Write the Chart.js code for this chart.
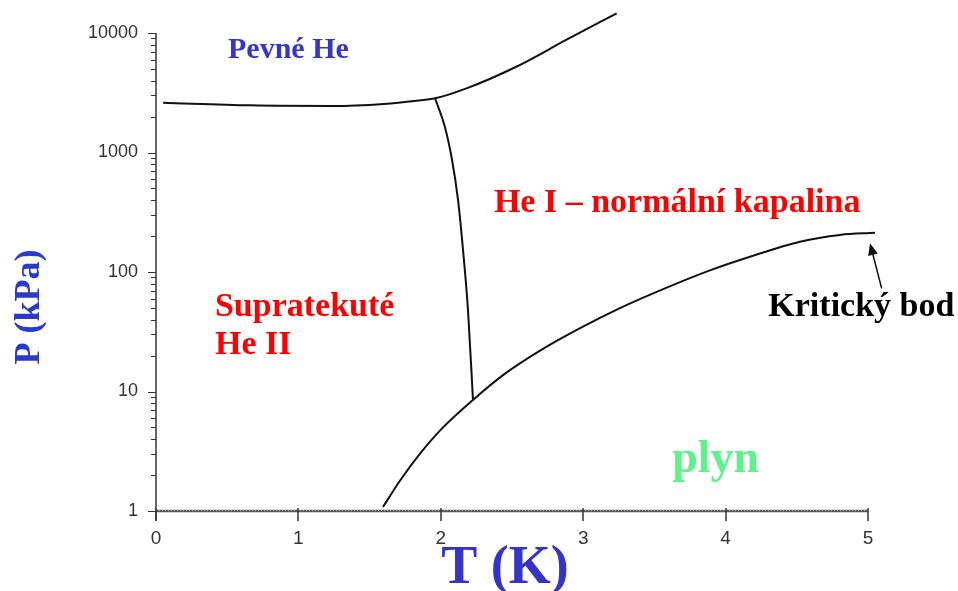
<!DOCTYPE html>
<html>
<head>
<meta charset="utf-8">
<script src="https://cdn.jsdelivr.net/npm/chart.js@4.4.1/dist/chart.umd.min.js"></script>
<style>
  html, body { margin: 0; padding: 0; background: #fff; }
  #wrap { width: 958px; height: 591px; }
</style>
</head>
<body>
<div id="wrap"><canvas id="phaseChart"></canvas></div>
<script>
// melting curve (solid / liquid)
const meltT = [0.05, 0.66, 1.24, 1.6, 1.83, 1.96, 2.18, 2.53, 2.88, 3.235];
const meltP = [2610, 2480, 2450, 2550, 2710, 2840, 3440, 5220, 8740, 14620];

// lambda line (He I / He II)
const lambdaT = [1.959, 2.029, 2.079, 2.121, 2.156, 2.191, 2.226];
const lambdaP = [2859, 1634, 865, 401, 153, 48, 8.5];

// vapour pressure curve
const vapT = [1.594, 1.713, 1.854, 1.994, 2.226, 2.451, 2.697, 2.978, 3.258, 3.574, 3.89, 4.171, 4.522, 4.803, 5.049];
const vapP = [1.08, 1.79, 3.02, 4.71, 8.5, 14.1, 22.0, 33.9, 49.9, 73.0, 103.3, 134.3, 179.3, 204.4, 212.8];

const xTicks = [0, 1, 2, 3, 4, 5];
const yTicks = [1, 10, 100, 1000, 10000];

// arrow to the critical point
const arrowFrom = { t: 5.096, p: 73 };
const arrowTo = { t: 5.014, p: 174 };

const serif = '"Liberation Serif", "Times New Roman", serif';
const sans = '"Liberation Sans", Arial, sans-serif';

const regionLabels = [
  { text: 'Pevné He', t: 0.93, p: 7200, color: '#3535cc', size: 30, align: 'center' },
  { text: 'He I – normální kapalina', t: 3.66, p: 378, color: '#ff0000', size: 34, align: 'center' },
  { text: 'Supratekuté', t: 0.414, p: 51, color: '#ff0000', size: 34, align: 'left' },
  { text: 'He II', t: 0.414, p: 24.5, color: '#ff0000', size: 34, align: 'left' },
  { text: 'Kritický bod', t: 4.30, p: 51, color: '#000000', size: 34, align: 'left' },
  { text: 'plyn', t: 3.93, p: 2.67, color: '#5ef28a', size: 46, align: 'center' }
];

function toPoints(xs, ys) {
  return xs.map((v, i) => ({ x: v, y: ys[i] }));
}

function lineSet(xs, ys) {
  return {
    data: toPoints(xs, ys),
    showLine: true,
    borderColor: '#111',
    borderWidth: 2,
    pointRadius: 0,
    cubicInterpolationMode: 'monotone',
    clip: false
  };
}

const phasePlugin = {
  id: 'phaseDecor',
  afterDraw(chart) {
    const { ctx, chartArea: a, scales: { x, y } } = chart;
    ctx.save();
    ctx.strokeStyle = '#333';

    // y axis line + ticks
    ctx.lineWidth = 1.5;
    ctx.beginPath();
    ctx.moveTo(a.left, a.top);
    ctx.lineTo(a.left, a.bottom + 10);
    ctx.stroke();
    ctx.lineWidth = 1;
    for (let d = 1; d <= 10000; d *= 10) {
      for (let m = 1; m <= 9; m++) {
        const v = d * m;
        if (v > 10000) break;
        const py = Math.round(y.getPixelForValue(v)) + 0.5;
        const len = m === 1 ? 8 : 5;
        ctx.beginPath();
        ctx.moveTo(a.left - len, py);
        ctx.lineTo(a.left, py);
        ctx.stroke();
      }
    }

    // x axis line (hatched look) + ticks
    ctx.strokeStyle = '#555';
    ctx.lineWidth = 2.5;
    ctx.beginPath();
    ctx.moveTo(a.left, a.bottom);
    ctx.lineTo(a.right, a.bottom);
    ctx.stroke();
    ctx.strokeStyle = '#bbb';
    ctx.lineWidth = 1;
    ctx.setLineDash([1, 2]);
    ctx.beginPath();
    ctx.moveTo(a.left, a.bottom - 0.5);
    ctx.lineTo(a.right, a.bottom - 0.5);
    ctx.stroke();
    ctx.setLineDash([]);
    ctx.strokeStyle = '#333';
    ctx.lineWidth = 1.5;
    xTicks.forEach(v => {
      const px = Math.round(x.getPixelForValue(v));
      ctx.beginPath();
      ctx.moveTo(px, a.bottom - 3);
      ctx.lineTo(px, a.bottom + 10);
      ctx.stroke();
    });

    // region labels
    ctx.textBaseline = 'middle';
    regionLabels.forEach(l => {
      ctx.font = 'bold ' + l.size + 'px ' + serif;
      ctx.fillStyle = l.color;
      ctx.textAlign = l.align;
      ctx.fillText(l.text, x.getPixelForValue(l.t), y.getPixelForValue(l.p));
    });

    // arrow
    const x1 = x.getPixelForValue(arrowFrom.t), y1 = y.getPixelForValue(arrowFrom.p);
    const x2 = x.getPixelForValue(arrowTo.t), y2 = y.getPixelForValue(arrowTo.p);
    const ang = Math.atan2(y2 - y1, x2 - x1);
    ctx.strokeStyle = '#111';
    ctx.fillStyle = '#111';
    ctx.lineWidth = 1.5;
    ctx.beginPath();
    ctx.moveTo(x1, y1);
    ctx.lineTo(x2 - 8 * Math.cos(ang), y2 - 8 * Math.sin(ang));
    ctx.stroke();
    ctx.beginPath();
    ctx.moveTo(x2, y2);
    ctx.lineTo(x2 - 12 * Math.cos(ang) + 5 * Math.sin(ang), y2 - 12 * Math.sin(ang) - 5 * Math.cos(ang));
    ctx.lineTo(x2 - 12 * Math.cos(ang) - 5 * Math.sin(ang), y2 - 12 * Math.sin(ang) + 5 * Math.cos(ang));
    ctx.closePath();
    ctx.fill();

    // axis titles
    ctx.textAlign = 'center';
    ctx.font = 'bold 54px ' + serif;
    ctx.fillStyle = '#3434c8';
    ctx.fillText('T (K)', 505, 569);
    ctx.translate(30, 307);
    ctx.rotate(-Math.PI / 2);
    ctx.font = 'bold 36px ' + serif;
    ctx.fillStyle = '#2a3acc';
    ctx.fillText('P (kPa)', 0, 0);
    ctx.restore();
  }
};

new Chart(document.getElementById('phaseChart'), {
  type: 'scatter',
  data: {
    datasets: [
      lineSet(meltT, meltP),
      lineSet(lambdaT, lambdaP),
      lineSet(vapT, vapP)
    ]
  },
  options: {
    responsive: true,
    maintainAspectRatio: false,
    animation: false,
    layout: { padding: { left: 0, top: 33, right: 90, bottom: 0 } },
    plugins: { legend: { display: false }, tooltip: { enabled: false } },
    scales: {
      x: {
        type: 'linear',
        min: 0,
        max: 5,
        afterBuildTicks: s => { s.ticks = xTicks.map(v => ({ value: v })); },
        afterFit: s => { s.height = 80; },
        grid: { display: false, drawTicks: false },
        border: { display: false },
        ticks: {
          padding: 16,
          color: '#333',
          font: { family: sans, size: 19 },
          maxRotation: 0
        }
      },
      y: {
        type: 'logarithmic',
        min: 1,
        max: 10000,
        afterBuildTicks: s => { s.ticks = yTicks.map(v => ({ value: v })); },
        afterFit: s => { s.width = 156; },
        grid: { display: false, drawTicks: false },
        border: { display: false },
        ticks: {
          padding: 18,
          autoSkip: false,
          color: '#333',
          font: { family: sans, size: 18 },
          callback: v => String(v)
        }
      }
    }
  },
  plugins: [phasePlugin]
});
</script>
</body>
</html>
